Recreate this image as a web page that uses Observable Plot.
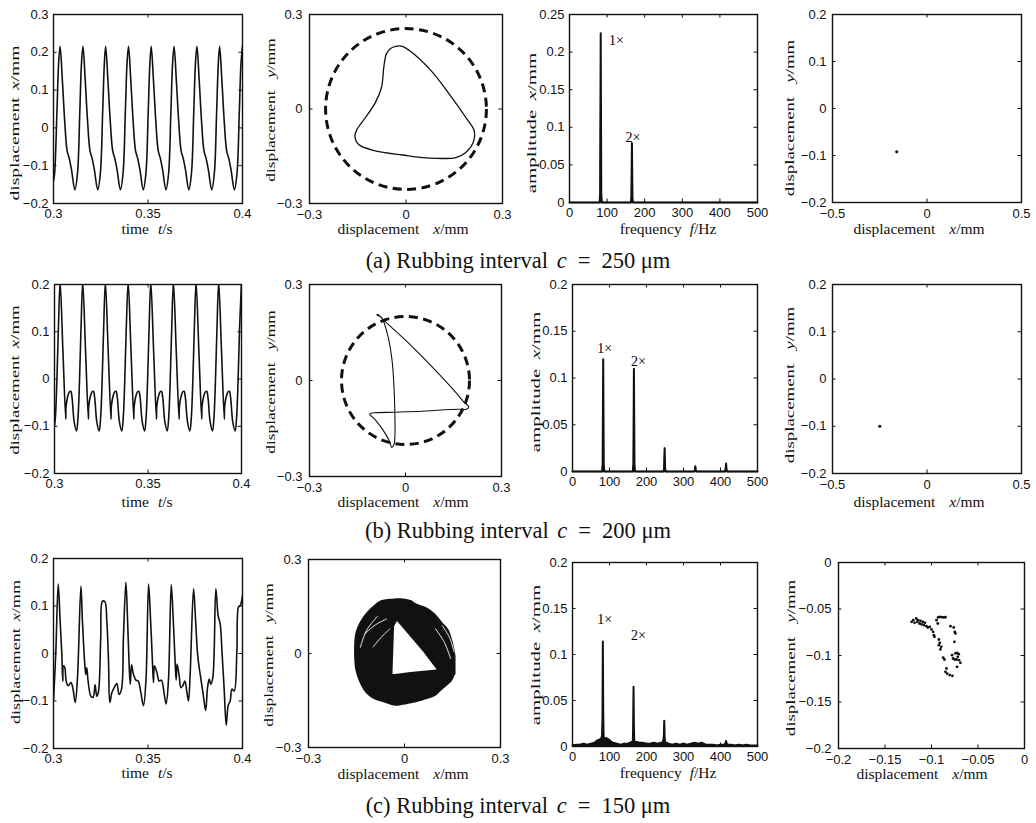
<!DOCTYPE html>
<html>
<head>
<meta charset="utf-8">
<script src="https://cdn.jsdelivr.net/npm/d3@7"></script>
<script src="https://cdn.jsdelivr.net/npm/@observablehq/plot@0.6"></script>
<style>
  html, body { margin: 0; padding: 0; background: #fff; }
  #fig { position: relative; width: 1036px; height: 823px; overflow: hidden; background: #fff; }
  #fig svg { position: absolute; }
</style>
</head>
<body>
<div id="fig"></div>
<script>
// ================= DATA =================
// tick labels
const tTicks = [0.3, 0.35, 0.4];
const ts1Ticks = [-0.2, -0.1, 0, 0.1, 0.2, 0.3];
const ts23Ticks = [-0.2, -0.1, 0, 0.1, 0.2];
const orbitTicks = [-0.3, 0, 0.3];
const freqTicks = [0, 100, 200, 300, 400, 500];
const amp1Ticks = [0, 0.05, 0.1, 0.15, 0.2, 0.25];
const amp23Ticks = [0, 0.05, 0.1, 0.15, 0.2];
const pcXTicks = [-0.5, 0, 0.5];
const pcYTicks = [-0.2, -0.1, 0, 0.1, 0.2];
const pc3Ticks = [-0.2, -0.15, -0.1, -0.05, 0];

// rubbing clearance (mm)
const clearanceMM = [0.25, 0.20, 0.15];

// (a) time series, c = 250 um
const ts1T = [0.3000, 0.3006, 0.3018, 0.3027,
  0.3035, 0.3047, 0.3059, 0.3072, 0.3083, 0.3095, 0.3113, 0.3127, 0.3139, 0.3148,
  0.3156, 0.3168, 0.3180, 0.3193, 0.3204, 0.3216, 0.3234, 0.3248, 0.3260, 0.3269,
  0.3276, 0.3288, 0.3300, 0.3313, 0.3324, 0.3336, 0.3354, 0.3368, 0.3380, 0.3389,
  0.3397, 0.3409, 0.3421, 0.3434, 0.3445, 0.3457, 0.3475, 0.3489, 0.3501, 0.3510,
  0.3517, 0.3529, 0.3541, 0.3554, 0.3565, 0.3577, 0.3595, 0.3609, 0.3621, 0.3630,
  0.3638, 0.3650, 0.3662, 0.3675, 0.3686, 0.3698, 0.3716, 0.3730, 0.3742, 0.3751,
  0.3759, 0.3771, 0.3783, 0.3796, 0.3807, 0.3819, 0.3837, 0.3851, 0.3863, 0.3872,
  0.3879, 0.3891, 0.3903, 0.3916, 0.3927, 0.3939, 0.3957, 0.3971, 0.3983, 0.3992,
  0.4000];
const ts1X = [-0.14, -0.12, 0.04, 0.17,
  0.216, 0.125, 0.02, -0.06, -0.08, -0.11, -0.164, -0.12, 0.04, 0.17,
  0.216, 0.125, 0.02, -0.06, -0.08, -0.11, -0.164, -0.12, 0.04, 0.17,
  0.216, 0.125, 0.02, -0.06, -0.08, -0.11, -0.164, -0.12, 0.04, 0.17,
  0.216, 0.125, 0.02, -0.06, -0.08, -0.11, -0.164, -0.12, 0.04, 0.17,
  0.216, 0.125, 0.02, -0.06, -0.08, -0.11, -0.164, -0.12, 0.04, 0.17,
  0.216, 0.125, 0.02, -0.06, -0.08, -0.11, -0.164, -0.12, 0.04, 0.17,
  0.216, 0.125, 0.02, -0.06, -0.08, -0.11, -0.164, -0.12, 0.04, 0.17,
  0.216, 0.125, 0.02, -0.06, -0.08, -0.11, -0.164, -0.12, 0.04, 0.17,
  0.216];

// (b) time series, c = 200 um
const ts2T = [0.3000, 0.3005, 0.3013, 0.3021,
  0.3030, 0.3045, 0.3060, 0.3062, 0.3070, 0.3080, 0.3087, 0.3094, 0.3105, 0.3118, 0.3126, 0.3134, 0.3142,
  0.3151, 0.3166, 0.3181, 0.3183, 0.3191, 0.3201, 0.3208, 0.3215, 0.3226, 0.3239, 0.3247, 0.3255, 0.3263,
  0.3272, 0.3287, 0.3302, 0.3304, 0.3312, 0.3322, 0.3329, 0.3336, 0.3347, 0.3360, 0.3368, 0.3376, 0.3384,
  0.3394, 0.3409, 0.3424, 0.3426, 0.3434, 0.3444, 0.3451, 0.3458, 0.3469, 0.3482, 0.3490, 0.3498, 0.3506,
  0.3515, 0.3530, 0.3545, 0.3547, 0.3555, 0.3565, 0.3572, 0.3579, 0.3590, 0.3603, 0.3611, 0.3619, 0.3627,
  0.3636, 0.3651, 0.3666, 0.3668, 0.3676, 0.3686, 0.3693, 0.3700, 0.3711, 0.3724, 0.3732, 0.3740, 0.3748,
  0.3757, 0.3772, 0.3787, 0.3789, 0.3797, 0.3807, 0.3814, 0.3821, 0.3832, 0.3845, 0.3853, 0.3861, 0.3869,
  0.3878, 0.3893, 0.3908, 0.3910, 0.3918, 0.3928, 0.3935, 0.3942, 0.3953, 0.3966, 0.3974, 0.3982, 0.3990,
  0.4000];
const ts2X = [-0.10, -0.08, 0.0, 0.11,
  0.205, 0.06, -0.085, -0.058, -0.038, -0.027, -0.026, -0.04, -0.09, -0.11, -0.08, 0.0, 0.11,
  0.205, 0.06, -0.085, -0.058, -0.038, -0.027, -0.026, -0.04, -0.09, -0.11, -0.08, 0.0, 0.11,
  0.205, 0.06, -0.085, -0.058, -0.038, -0.027, -0.026, -0.04, -0.09, -0.11, -0.08, 0.0, 0.11,
  0.205, 0.06, -0.085, -0.058, -0.038, -0.027, -0.026, -0.04, -0.09, -0.11, -0.08, 0.0, 0.11,
  0.205, 0.06, -0.085, -0.058, -0.038, -0.027, -0.026, -0.04, -0.09, -0.11, -0.08, 0.0, 0.11,
  0.205, 0.06, -0.085, -0.058, -0.038, -0.027, -0.026, -0.04, -0.09, -0.11, -0.08, 0.0, 0.11,
  0.205, 0.06, -0.085, -0.058, -0.038, -0.027, -0.026, -0.04, -0.09, -0.11, -0.08, 0.0, 0.11,
  0.205, 0.06, -0.085, -0.058, -0.038, -0.027, -0.026, -0.04, -0.09, -0.11, -0.08, 0.0, 0.11,
  0.205];

// (c) time series, c = 150 um
const ts3T = [0.3000, 0.3012, 0.3025, 0.3035, 0.3044, 0.3049, 0.3053, 0.3060, 0.3067, 0.3078,
  0.3092, 0.3102, 0.3115, 0.3127, 0.3145, 0.3153, 0.3166, 0.3171, 0.3176, 0.3183,
  0.3198, 0.3210, 0.3220, 0.3229, 0.3238, 0.3250, 0.3259, 0.3272, 0.3282, 0.3291,
  0.3298, 0.3309, 0.3321, 0.3335, 0.3347, 0.3360, 0.3370, 0.3383, 0.3392, 0.3400,
  0.3406, 0.3413, 0.3423, 0.3436, 0.3448, 0.3462, 0.3476, 0.3489, 0.3503, 0.3513,
  0.3524, 0.3529, 0.3534, 0.3547, 0.3559, 0.3571, 0.3586, 0.3596, 0.3608, 0.3623,
  0.3633, 0.3644, 0.3649, 0.3654, 0.3665, 0.3674, 0.3684, 0.3695, 0.3705, 0.3714,
  0.3723, 0.3741, 0.3751, 0.3762, 0.3771, 0.3780, 0.3792, 0.3805, 0.3815, 0.3824,
  0.3832, 0.3843, 0.3859, 0.3871, 0.3882, 0.3892, 0.3903, 0.3914, 0.3924, 0.3935,
  0.3944, 0.3956, 0.3970, 0.3979, 0.3988, 0.4000];
const ts3X = [-0.10, 0.00, 0.146, 0.069, 0.00, -0.058, -0.026, -0.030, -0.058, -0.068,
  -0.061, -0.072, -0.103, -0.050, 0.142, 0.069, -0.026, -0.044, -0.030, -0.058,
  -0.090, -0.092, -0.066, -0.090, -0.080, 0.034, 0.110, 0.109, 0.069, -0.015,
  -0.103, -0.082, -0.072, -0.063, -0.086, -0.075, 0.034, 0.150, 0.069, -0.022,
  -0.065, -0.024, -0.044, -0.056, -0.058, -0.082, -0.110, -0.058, 0.146, 0.076,
  -0.022, -0.061, -0.026, -0.040, -0.058, -0.056, -0.086, -0.106, -0.058, 0.145,
  0.076, -0.022, -0.056, -0.022, -0.047, -0.072, -0.068, -0.058, -0.079, -0.100,
  -0.044, 0.136, 0.076, 0.000, -0.030, -0.054, -0.086, -0.120, -0.072, -0.054,
  -0.065, -0.051, 0.136, 0.080, 0.062, 0.000, -0.075, -0.151, -0.110, -0.100,
  -0.075, -0.079, 0.002, 0.098, 0.101, 0.122];

// (a) orbit, [x, y] mm
const orbit1 = [[-0.032, 0.199], [-0.011, 0.199], [0.03, 0.17], [0.082, 0.117], [0.134, 0.048],
  [0.186, -0.027], [0.212, -0.069], [0.209, -0.106], [0.186, -0.138], [0.155, -0.154],
  [0.072, -0.156], [-0.011, -0.146], [-0.095, -0.133], [-0.147, -0.113], [-0.159, -0.085],
  [-0.152, -0.064], [-0.126, -0.027], [-0.095, 0.021], [-0.076, 0.069], [-0.069, 0.133],
  [-0.061, 0.175], [-0.048, 0.192]];

// (b) orbit
const orbit2 = [[-0.086, 0.206], [-0.07, 0.19], [0.0, 0.126], [0.084, 0.042], [0.157, -0.037],
  [0.183, -0.068], [0.198, -0.082], [0.19, -0.09], [0.167, -0.09], [0.1, -0.093],
  [0.052, -0.096], [-0.031, -0.099], [-0.1, -0.101], [-0.112, -0.104], [-0.095, -0.122],
  [-0.07, -0.155], [-0.05, -0.19], [-0.043, -0.209], [-0.036, -0.2], [-0.033, -0.17],
  [-0.033, -0.12], [-0.035, -0.042], [-0.042, 0.063], [-0.057, 0.147], [-0.075, 0.197],
  [-0.09, 0.205]];

// (c) orbit: envelope of the dense band and its inner hole
const blobX  = [-0.156, -0.151, -0.124, -0.093, -0.072, -0.029, -0.003, 0.023, 0.034, 0.076, 0.097, 0.118, 0.139, 0.149, 0.158, 0.161];
const blobLo = [0.0, -0.058, -0.121, -0.148, -0.155, -0.168, -0.165, -0.160, -0.158, -0.145, -0.137, -0.118, -0.100, -0.090, -0.072, -0.066];
const blobHi = [0.01, 0.068, 0.121, 0.153, 0.168, 0.174, 0.174, 0.168, 0.160, 0.142, 0.125, 0.100, 0.075, 0.047, 0.010, -0.010];
const holeX  = [-0.036, -0.031, -0.022, 0.02, 0.06, 0.102];
const holeLo = [-0.067, -0.067, -0.066, -0.061, -0.057, -0.053];
const holeHi = [-0.067, 0.085, 0.102, 0.052, 0.004, -0.053];
const streaks = [
  [0, -0.124, 0.063], [0, -0.09, 0.092], [0, -0.056, 0.11],
  [1, -0.098, 0.021], [1, -0.07, 0.055], [1, -0.045, 0.079],
  [2, 0.097, 0.079], [2, 0.125, 0.035], [2, 0.144, -0.016],
  [3, 0.118, 0.089], [3, 0.142, 0.048], [3, 0.155, 0.005],
  [4, -0.138, 0.02], [4, -0.118, 0.075], [4, -0.085, 0.118]];

// spectra
const sp1F = [0, 80, 81.5, 83, 84.5, 86, 163, 164.5, 166, 167.5, 169, 500];
const sp1A = [0, 0, 0.012, 0.225, 0.012, 0, 0, 0.006, 0.079, 0.006, 0, 0];
const sp2F = [0, 80, 81.5, 83, 84.5, 86, 163, 164.5, 166, 167.5, 169, 246, 247.5, 249, 250.5, 252,
  329, 330.5, 332, 333.5, 335, 412, 413.5, 415, 416.5, 418, 500];
const sp2A = [0, 0, 0.008, 0.12, 0.008, 0, 0, 0.008, 0.11, 0.008, 0, 0, 0.003, 0.025, 0.003, 0,
  0, 0.001, 0.0055, 0.001, 0, 0, 0.002, 0.0085, 0.002, 0, 0];
const sp3F = [0, 10, 20, 30, 40, 50, 60, 65, 70, 75, 78, 80, 81, 82, 83, 84, 85, 88, 92, 96, 100,
  105, 110, 120, 130, 140, 150, 155, 160, 163, 164, 165, 166, 167, 170, 175, 180, 190, 200, 210,
  220, 230, 240, 245, 247, 248, 249, 250, 252, 255, 260, 270, 280, 290, 300, 310, 320, 330, 340,
  350, 360, 370, 380, 390, 400, 410, 413, 415, 417, 420, 430, 440, 450, 460, 470, 480, 490, 500];
const sp3A = [0.001, 0.002, 0.002, 0.003, 0.002, 0.003, 0.004, 0.006, 0.007, 0.008, 0.009, 0.012, 0.03, 0.114, 0.04, 0.012, 0.009, 0.009, 0.009, 0.008, 0.007,
  0.005, 0.004, 0.003, 0.002, 0.003, 0.003, 0.004, 0.005, 0.006, 0.02, 0.065, 0.02, 0.006, 0.005, 0.005, 0.004, 0.004, 0.003, 0.003,
  0.004, 0.003, 0.004, 0.005, 0.012, 0.028, 0.012, 0.005, 0.004, 0.004, 0.003, 0.002, 0.003, 0.002, 0.003, 0.002, 0.003, 0.004, 0.003,
  0.004, 0.002, 0.002, 0.002, 0.001, 0.002, 0.002, 0.003, 0.006, 0.003, 0.002, 0.002, 0.001, 0.002, 0.001, 0.002, 0.001, 0.001, 0.001];
const harm1 = [{f: 105, a: 0.216, s: "1×"}, {f: 149, a: 0.087, s: "2×"}];
const harm2 = [{f: 67, a: 0.132, s: "1×"}, {f: 158, a: 0.118, s: "2×"}];
const harm3 = [{f: 67, a: 0.138, s: "1×"}, {f: 158, a: 0.121, s: "2×"}];

// Poincaré maps
const pc1 = [[-0.16, -0.092]];
const pc2 = [[-0.25, -0.10]];
const pc3X = [-0.1214, -0.1196, -0.1182, -0.1164, -0.1154, -0.1143, -0.1129, -0.1118, -0.1107, -0.1093,
  -0.1082, -0.1071, -0.1054, -0.1039, -0.1018, -0.1000, -0.0982, -0.0975, -0.0968,
  -0.0946, -0.0929, -0.0911, -0.0889, -0.0868, -0.0850, -0.0932,
  -0.0921, -0.0911, -0.0921, -0.0896, -0.0904,
  -0.0796, -0.0761, -0.0750, -0.0743, -0.0754, -0.0779, -0.0743, -0.0725, -0.0707, -0.0718,
  -0.0732, -0.0704, -0.0689, -0.0725, -0.0750, -0.0768,
  -0.0875, -0.0861, -0.0839, -0.0850, -0.0832, -0.0804, -0.0775];
const pc3Y = [-0.0638, -0.0620, -0.0649, -0.0602, -0.0638, -0.0620, -0.0656, -0.0627, -0.0663, -0.0638,
  -0.0674, -0.0649, -0.0685, -0.0699, -0.0692, -0.0720, -0.0745, -0.0781, -0.0799,
  -0.0620, -0.0591, -0.0584, -0.0588, -0.0591, -0.0588, -0.0656,
  -0.0828, -0.0864, -0.0889, -0.0907, -0.0935,
  -0.0685, -0.0699, -0.0746, -0.0763, -0.0853, -0.0996, -0.0978, -0.0971, -0.0986, -0.1014,
  -0.1043, -0.1050, -0.1079, -0.1122, -0.1043, -0.1032,
  -0.1022, -0.1043, -0.1140, -0.1176, -0.1194, -0.1211, -0.1219];

// ================= LAYOUT =================
const INK = "#111";
const frames = {
  r1c1: [53, 14, 189, 189], r1c2: [309, 14, 193, 189], r1c3: [569, 14, 188, 188], r1c4: [832, 14, 189, 188],
  r2c1: [54, 284, 187, 189], r2c2: [309, 284, 192, 192], r2c3: [572, 284, 185, 187], r2c4: [832, 284, 189, 189],
  r3c1: [53, 558, 189, 190], r3c2: [308, 559, 192, 188], r3c3: [572, 562, 185, 184], r3c4: [838, 562, 186, 186]
};
const fig = document.getElementById("fig");
const fmt = d => Math.abs(d) < 1e-12 ? "0" : (d < 0 ? "\u2212" + String(-d) : String(d));
const zipT = (a, b) => a.map((v, i) => ({t: v, v: b[i]}));

function panel(fr, o) {
  const [L, T, W, H] = fr;
  const mL = 50, mR = 14, mT = 12, mB = 26, tk = 3.5;
  const ticks = [
    Plot.tickX(o.xt, {x: d => d, insetTop: H - tk, stroke: INK}),
    Plot.tickX(o.xt, {x: d => d, insetBottom: H - tk, stroke: INK}),
    Plot.tickY(o.yt, {y: d => d, insetRight: W - tk, stroke: INK}),
    Plot.tickY(o.yt, {y: d => d, insetLeft: W - tk, stroke: INK})
  ];
  const opts = {
    width: W + mL + mR, height: H + mT + mB,
    marginLeft: mL, marginRight: mR, marginTop: mT, marginBottom: mB,
    x: {domain: o.xd, ticks: o.xt, tickFormat: fmt, tickSize: 0, tickPadding: o.xpad || 5, label: null},
    y: {domain: o.yd, ticks: o.yt, tickFormat: fmt, tickSize: 0, tickPadding: o.ypad || 5, label: null},
    style: {fontFamily: "'Liberation Sans', Arial, sans-serif", fontSize: "13px", color: INK, background: "transparent", overflow: "visible"},
    marks: [...o.marks, ...ticks, Plot.frame({stroke: INK, strokeWidth: 1.4})]
  };
  if (o.r) opts.r = {type: "linear", domain: [0, 0.3], range: [0, W / 2]};
  const p = Plot.plot(opts);
  p.style.left = (L - mL) + "px";
  p.style.top = (T - mT) + "px";
  fig.appendChild(p);
}

const timeMarks = (d, clip) => [Plot.line(d, {x: "t", y: "v", stroke: INK, strokeWidth: 1.6, curve: "catmull-rom", clip})];
const specMarks = (F, A, H) => {
  const d = F.map((f, i) => ({f, a: A[i]}));
  return [
    Plot.areaY(d, {x: "f", y: "a", fill: INK}),
    Plot.line(d, {x: "f", y: "a", stroke: INK, strokeWidth: 2}),
    Plot.text(H, {x: "f", y: "a", text: "s", textAnchor: "start", fontFamily: "'Liberation Serif', serif", fontSize: 14, fill: "#000"})
  ];
};
const circleMark = c => Plot.dot([{x: 0, y: 0, c}], {x: "x", y: "y", r: "c", fill: "none", stroke: INK, strokeWidth: 3, strokeDasharray: "9,5.5"});

// Row (a)
panel(frames.r1c1, {xd: [0.3, 0.4], yd: [-0.2, 0.3], xt: tTicks, yt: ts1Ticks, marks: timeMarks(zipT(ts1T, ts1X), true)});
panel(frames.r1c2, {xd: [-0.3, 0.3], yd: [-0.3, 0.3], xt: orbitTicks, yt: orbitTicks, r: true, xpad: 6, ypad: 7, marks: [
  circleMark(clearanceMM[0]),
  Plot.line(orbit1, {x: d => d[0], y: d => d[1], stroke: INK, strokeWidth: 1.3, curve: "catmull-rom-closed"})
]});
panel(frames.r1c3, {xd: [0, 500], yd: [0, 0.25], xt: freqTicks, yt: amp1Ticks, marks: specMarks(sp1F, sp1A, harm1)});
panel(frames.r1c4, {xd: [-0.5, 0.5], yd: [-0.2, 0.2], xt: pcXTicks, yt: pcYTicks, xpad: 6, ypad: 6, marks: [
  Plot.dot(pc1, {x: d => d[0], y: d => d[1], r: 1.6, fill: INK})
]});

// Row (b)
panel(frames.r2c1, {xd: [0.3, 0.4], yd: [-0.2, 0.2], xt: tTicks, yt: ts23Ticks, marks: timeMarks(zipT(ts2T, ts2X), true)});
panel(frames.r2c2, {xd: [-0.3, 0.3], yd: [-0.3, 0.3], xt: orbitTicks, yt: orbitTicks, r: true, xpad: 6, ypad: 7, marks: [
  circleMark(clearanceMM[1]),
  Plot.line(orbit2, {x: d => d[0], y: d => d[1], stroke: INK, strokeWidth: 1.1, curve: "catmull-rom-closed"})
]});
panel(frames.r2c3, {xd: [0, 500], yd: [0, 0.2], xt: freqTicks, yt: amp23Ticks, marks: specMarks(sp2F, sp2A, harm2)});
panel(frames.r2c4, {xd: [-0.5, 0.5], yd: [-0.2, 0.2], xt: pcXTicks, yt: pcYTicks, xpad: 6, ypad: 6, marks: [
  Plot.dot(pc2, {x: d => d[0], y: d => d[1], r: 1.6, fill: INK})
]});

// Row (c)
const blob = blobX.map((x, i) => ({x, lo: blobLo[i], hi: blobHi[i]}));
const hole = holeX.map((x, i) => ({x, lo: holeLo[i], hi: holeHi[i]}));
panel(frames.r3c1, {xd: [0.3, 0.4], yd: [-0.2, 0.2], xt: tTicks, yt: ts23Ticks, marks: timeMarks(zipT(ts3T, ts3X), true)});
panel(frames.r3c2, {xd: [-0.3, 0.3], yd: [-0.3, 0.3], xt: orbitTicks, yt: orbitTicks, xpad: 6, ypad: 7, marks: [
  Plot.areaY(blob, {x: "x", y1: "lo", y2: "hi", fill: INK, curve: "catmull-rom"}),
  Plot.areaY(hole, {x: "x", y1: "lo", y2: "hi", fill: "#fff"}),
  Plot.line(streaks, {x: d => d[1], y: d => d[2], z: d => d[0], stroke: "#fff", strokeWidth: 0.9, curve: "catmull-rom"})
]});
panel(frames.r3c3, {xd: [0, 500], yd: [0, 0.2], xt: freqTicks, yt: amp23Ticks, marks: specMarks(sp3F, sp3A, harm3)});
panel(frames.r3c4, {xd: [-0.2, 0], yd: [-0.2, 0], xt: pc3Ticks, yt: pc3Ticks, xpad: 6, ypad: 7, marks: [
  Plot.dot(pc3X.map((x, i) => [x, pc3Y[i]]), {x: d => d[0], y: d => d[1], r: 1.4, fill: INK})
]});

// ================= TEXT OVERLAY =================
const ov = d3.select("#fig").append("svg")
  .attr("width", 1036).attr("height", 823)
  .style("left", "0px").style("top", "0px").style("pointer-events", "none");
function txt(x, y, parts, o = {}) {
  const t = ov.append("text")
    .attr("transform", `translate(${x},${y})` + (o.rot ? ` rotate(${o.rot})` : "") + (o.sx ? ` scale(${o.sx},1)` : ""))
    .attr("text-anchor", "middle")
    .attr("font-family", "'Liberation Serif', 'Times New Roman', serif")
    .attr("font-size", o.size || 15.5)
    .attr("fill", INK);
  for (const p of parts) {
    const s = t.append("tspan").text(p[0]);
    if (p[1]) s.attr("font-style", "italic");
    if (p[2]) s.attr("dx", p[2]);
  }
}
const lblDispX = [["displacement"], ["x", true, 14], ["/mm"]];
const lblDispY = [["displacement"], ["y", true, 10], ["/mm"]];
const lblDispXv = [["displacement"], ["x", true, 5], ["/mm"]];
const lblAmp = [["amplitude"], ["x", true, 6], ["/mm"]];
const lblTime = [["time"], ["t", true, 9], ["/s"]];
const lblFreq = [["frequency"], ["f", true, 8], ["/Hz"]];
const V = {rot: -90, size: 13.5};

// y labels
[[14, 123, 1.45], [14, 380, 1.4], [15, 652, 1.35]].forEach(([x, y, s]) => txt(x + 4.5, y, lblDispXv, {...V, sx: s}));
[[270, 110], [270, 382], [268, 655]].forEach(([x, y]) => txt(x + 4.5, y, lblDispY, {...V, sx: 1.28}));
[[531, 123], [535, 382], [535, 655]].forEach(([x, y]) => txt(x + 4.5, y, lblAmp, {...V, sx: 1.55}));
[[789, 118], [789, 385], [790, 658]].forEach(([x, y]) => txt(x + 4.5, y, lblDispY, {...V, sx: 1.4}));
// x labels
txt(147, 234, lblTime); txt(403, 234, lblDispX); txt(668, 234, lblFreq); txt(919, 234, lblDispX);
txt(147, 507, lblTime); txt(403, 507, lblDispX); txt(919, 507, lblDispX);
txt(147, 778, lblTime); txt(403, 779, lblDispX); txt(668, 778, lblFreq); txt(922, 779, lblDispX);
// captions
function caption(y, lab, val) {
  const t = ov.append("text").attr("x", 518).attr("y", y).attr("text-anchor", "middle")
    .attr("font-family", "'Liberation Serif', 'Times New Roman', serif").attr("font-size", 22.5).attr("fill", INK);
  t.append("tspan").text(`(${lab}) Rubbing interval `);
  t.append("tspan").attr("font-style", "italic").attr("dx", 3).text("c");
  t.append("tspan").attr("dx", 11).text("=");
  t.append("tspan").attr("dx", 11).text(`${val} μm`);
}
caption(268, "a", 250);
caption(538, "b", 200);
caption(813, "c", 150);
</script>
</body>
</html>
